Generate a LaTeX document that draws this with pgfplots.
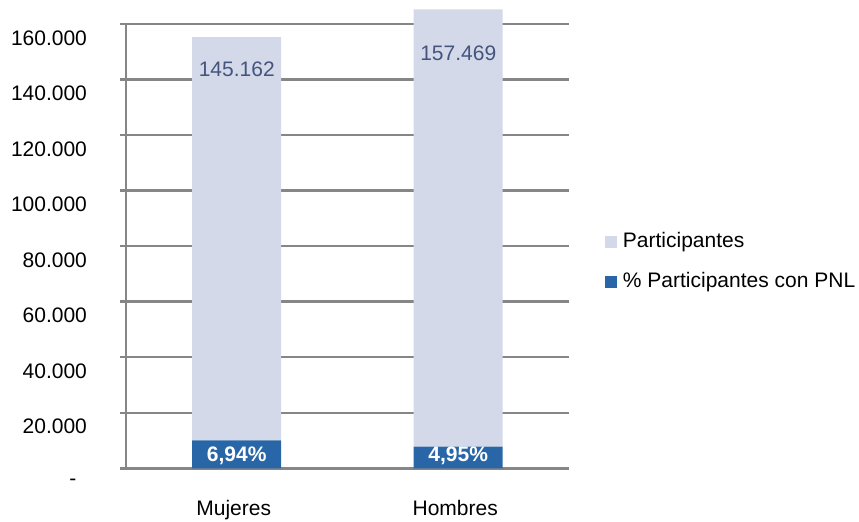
\documentclass[border=0pt]{standalone}
\usepackage{fontspec}
\setmainfont{Liberation Sans}
\usepackage{pgfplots}
\pgfplotsset{compat=1.18}
\definecolor{lightbar}{RGB}{211,217,232}
\definecolor{darkbar}{RGB}{41,102,167}
\definecolor{gridc}{RGB}{134,134,134}
\definecolor{labc}{RGB}{68,84,127}
\begin{document}
\begin{tikzpicture}[font=\fontsize{10.5}{12}\selectfont]
\useasboundingbox (0,0) rectangle (429.5pt,260.5pt);
\begin{axis}[
  at={(63pt,26.35pt)}, anchor=south west,
  scale only axis, width=221.5pt, height=222.15pt,
  ybar stacked, bar width=44.5pt,
  xmin=-0.5, xmax=1.5, ymin=0, ymax=160000,
  clip=false,
  scaled y ticks=false,
  axis lines*=left,
  axis line style={gridc, line width=1.25pt},
  ytick={0,20000,40000,60000,80000,100000,120000,140000,160000},
  yticklabels={{-\kern5.3pt},20.000,40.000,60.000,80.000,100.000,120.000,140.000,160.000},
  yticklabel style={yshift=-7pt, xshift=-13pt, text=black},
  ymajorgrids,
  major grid style={gridc, line width=1.25pt},
  tick style={gridc, line width=1.25pt},
  tick align=outside,
  major tick length=3pt,
  xtick={0,1},
  xticklabels={Mujeres,Hombres},
  xticklabel style={yshift=-9.5pt, xshift=-1.5pt, text=black},
  xtick style={draw=none},
  extra x ticks={-0.5,0.5,1.5},
  extra x tick labels={},
  extra x tick style={major tick length=4pt, tick style={gridc, line width=1.25pt}, grid=none},
  reverse legend,
  legend cell align=left,
  legend style={draw=none, fill=none, at={(rel axis cs:1.081,0.465)}, anchor=west,
    inner sep=0pt, row sep=10.3pt, column sep=2.85pt,
    nodes={inner sep=0pt, text height=7.5pt, text depth=2.2pt}},
]
\addplot[fill=darkbar, draw=none,
  legend image code/.code={\fill[darkbar] (0pt,-3pt) rectangle (6pt,3pt);},
  nodes near coords, point meta=explicit symbolic,
  visualization depends on={x \as \rawx},
  every node near coord/.append style={anchor=center, yshift={(-0.75+1.4*\rawx)*1pt}, text=white, font=\fontsize{10.5}{12}\selectfont\bfseries}]
  coordinates {(0,10074) [6,94\%] (1,7795) [4,95\%]};
\addlegendentry{\% Participantes con PNL}
\addplot[fill=lightbar, draw=none,
  legend image code/.code={\fill[lightbar] (0pt,-3pt) rectangle (6pt,3pt);},
  nodes near coords, point meta=explicit symbolic,
  visualization depends on={x \as \rawx},
  every node near coord/.append style={anchor=center, yshift={(84.6+2.8*\rawx)*1pt}, text=labc}]
  coordinates {(0,145162) [145.162] (1,157469) [157.469]};
\addlegendentry{Participantes}
\end{axis}
\end{tikzpicture}
\end{document}
